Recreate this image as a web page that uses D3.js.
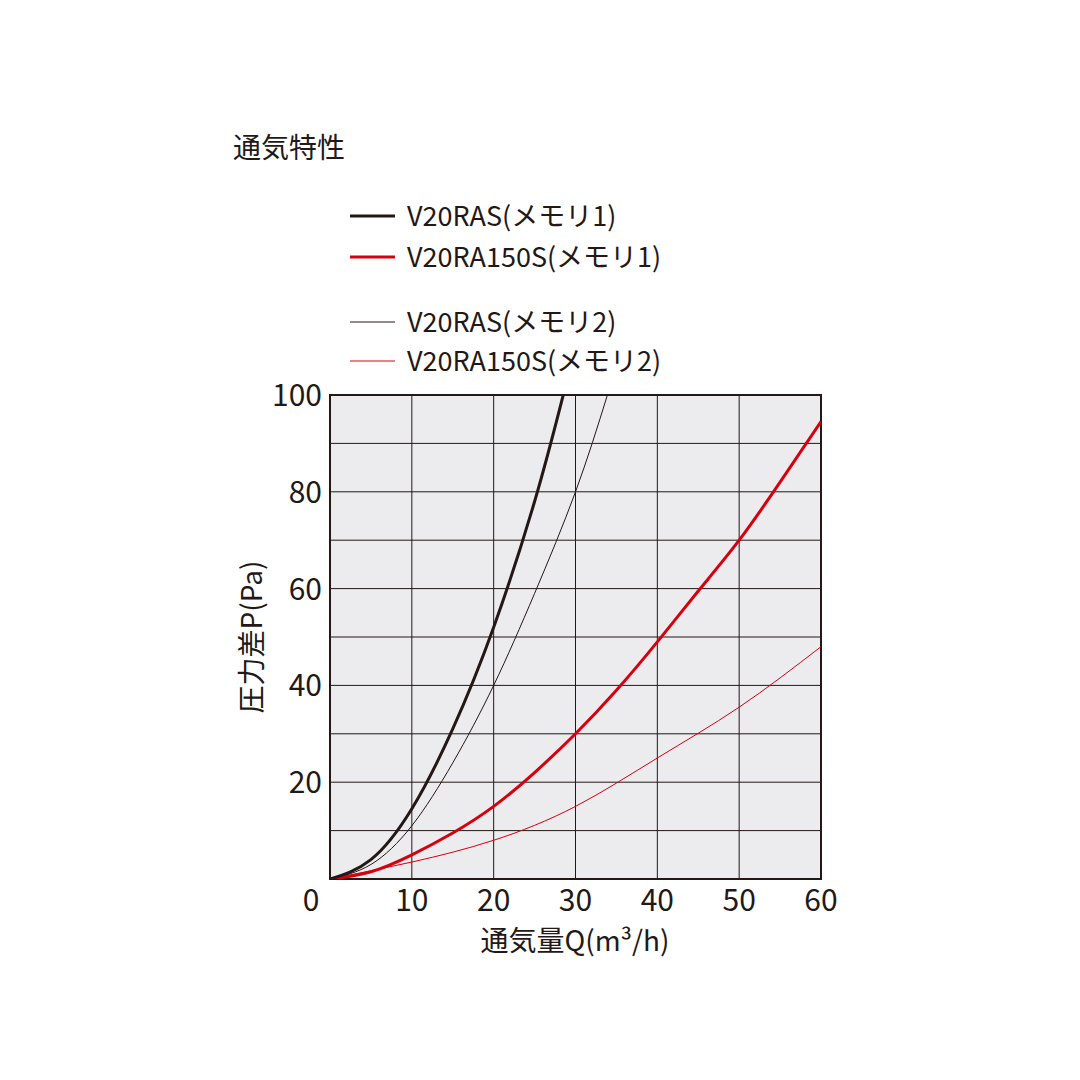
<!DOCTYPE html><html><head><meta charset="utf-8"><script src="https://cdn.jsdelivr.net/npm/d3@7"></script>
<style>body{margin:0;background:#fff}text{font-family:"Noto Sans CJK JP","Noto Sans",sans-serif;fill:#231815}</style></head><body>
<svg id="c" width="1080" height="1080"></svg>
<script>
const xTicks=[10,20,30,40,50,60];
const yTicks=[20,40,60,80,100];
const blackThick=[[0,0],[5,4],[10,14.5],[15,31],[20,52],[25,78],[28.5,100]];
const blackThin=[[0,0],[5,3],[10,11],[15,24],[20,40],[25,59],[30,80],[33.9,100]];
const redThick=[[0,0],[5,1.5],[10,5],[15,9.5],[20,15],[25,22],[30,30],[35,39],[40,49],[45,59.5],[50,70],[55,82],[60,94.5]];
const redThin=[[0,0],[10,3.5],[20,8],[30,15],[40,25],[50,35.5],[60,48]];
const legend=[["V20RAS(メモリ1)","#231815",3],["V20RA150S(メモリ1)","#d7000f",3],["V20RAS(メモリ2)","#231815",1],["V20RA150S(メモリ2)","#d7000f",1]];
const svg=d3.select("#c");
const x=d3.scaleLinear().domain([0,60]).range([330,821]);
const y=d3.scaleLinear().domain([0,100]).range([879,395]);
svg.append("rect").attr("x",330).attr("y",395).attr("width",491).attr("height",484).attr("fill","#ecebee");
d3.range(10,100,10).forEach(v=>svg.append("line").attr("x1",330).attr("x2",821).attr("y1",y(v)).attr("y2",y(v)).attr("stroke","#231815").attr("stroke-width",1));
d3.range(10,60,10).forEach(v=>svg.append("line").attr("y1",395).attr("y2",879).attr("x1",x(v)).attr("x2",x(v)).attr("stroke","#231815").attr("stroke-width",1));
svg.append("rect").attr("x",330).attr("y",395).attr("width",491).attr("height",484).attr("fill","none").attr("stroke","#231815").attr("stroke-width",2);
const line=d3.line().x(d=>x(d[0])).y(d=>y(d[1])).curve(d3.curveNatural);
svg.append("clipPath").attr("id","cp").append("rect").attr("x",330).attr("y",395).attr("width",491).attr("height",484);
[[redThin,"#d7000f",1],[blackThin,"#231815",1],[redThick,"#d7000f",3],[blackThick,"#231815",3]].forEach(([d,c,w])=>
 svg.append("path").attr("d",line(d)).attr("fill","none").attr("stroke",c).attr("stroke-width",w).attr("clip-path","url(#cp)"));
yTicks.forEach(v=>svg.append("text").attr("x",322).attr("y",y(v)+11).attr("text-anchor","end").attr("font-size",30).text(v));
svg.append("text").attr("x",311).attr("y",911).attr("text-anchor","middle").attr("font-size",30).text(0);
xTicks.forEach(v=>svg.append("text").attr("x",x(v)).attr("y",911).attr("text-anchor","middle").attr("font-size",30).text(v));
svg.append("text").attr("x",575).attr("y",951).attr("text-anchor","middle").attr("font-size",28).text("通気量Q(m³/h)");
svg.append("text").attr("transform","translate(262,637) rotate(-90)").attr("text-anchor","middle").attr("font-size",28).text("圧力差P(Pa)");
svg.append("text").attr("x",233).attr("y",158).attr("font-size",28).text("通気特性");
const ly=[216,257,322,361];
legend.forEach((l,i)=>{svg.append("line").attr("x1",350).attr("x2",395).attr("y1",ly[i]).attr("y2",ly[i]).attr("stroke",l[1]).attr("stroke-width",l[2]);
 svg.append("text").attr("x",407).attr("y",ly[i]+10).attr("font-size",27).text(l[0]);});
</script></body></html>
